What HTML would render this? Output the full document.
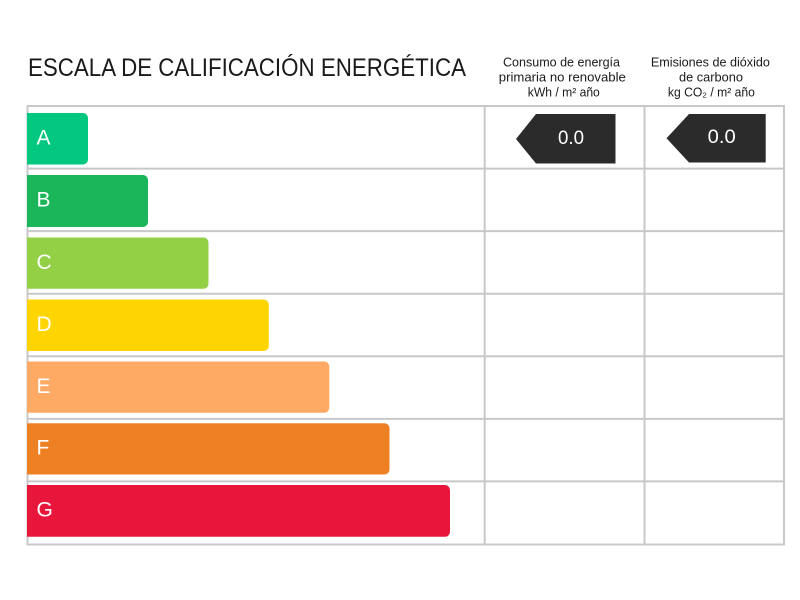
<!DOCTYPE html>
<html>
<head>
<meta charset="utf-8">
<style>
html,body{margin:0;padding:0;background:#ffffff;}
svg{display:block;}
text{font-family:"Liberation Sans",sans-serif;}
</style>
</head>
<body>
<svg width="800" height="600" viewBox="0 0 800 600" xmlns="http://www.w3.org/2000/svg">
  <rect x="0" y="0" width="800" height="600" fill="#ffffff"/>

  <!-- Title -->
  <text x="28" y="76" font-size="25" fill="#1a1a1a" textLength="438" lengthAdjust="spacingAndGlyphs">ESCALA DE CALIFICACIÓN ENERGÉTICA</text>

  <!-- Column headers -->
  <g font-size="13" fill="#1a1a1a" text-anchor="middle">
    <text x="561.5" y="66.5" textLength="117" lengthAdjust="spacingAndGlyphs">Consumo de energía</text>
    <text x="562.3" y="81.5" textLength="127" lengthAdjust="spacingAndGlyphs">primaria no renovable</text>
    <text x="563.8" y="96.5" textLength="72" lengthAdjust="spacingAndGlyphs">kWh / m² año</text>
    <text x="710.4" y="66.5" textLength="119" lengthAdjust="spacingAndGlyphs">Emisiones de dióxido</text>
    <text x="711" y="81.5" textLength="64" lengthAdjust="spacingAndGlyphs">de carbono</text>
    <text x="711.4" y="96.5" textLength="87" lengthAdjust="spacingAndGlyphs">kg CO₂ / m² año</text>
  </g>

  <!-- Grid -->
  <g stroke="#c8c8c8" stroke-width="2" fill="none">
    <line x1="27" y1="106" x2="784.5" y2="106"/>
    <line x1="27" y1="168.6" x2="784.5" y2="168.6"/>
    <line x1="27" y1="231.1" x2="784.5" y2="231.1"/>
    <line x1="27" y1="293.7" x2="784.5" y2="293.7"/>
    <line x1="27" y1="356.3" x2="784.5" y2="356.3"/>
    <line x1="27" y1="418.9" x2="784.5" y2="418.9"/>
    <line x1="27" y1="481.4" x2="784.5" y2="481.4"/>
    <line x1="27" y1="544.5" x2="784.5" y2="544.5"/>
    <line x1="27.5" y1="105" x2="27.5" y2="545.5"/>
    <line x1="484.7" y1="105" x2="484.7" y2="545.5"/>
    <line x1="644.5" y1="105" x2="644.5" y2="545.5"/>
    <line x1="784" y1="105" x2="784" y2="545.5"/>
  </g>

  <!-- Bars -->
  <g>
    <path d="M27,113 H83 a5,5 0 0 1 5,5 V159.5 a5,5 0 0 1 -5,5 H27 Z" fill="#02c77e"/>
    <path d="M27,175 H143 a5,5 0 0 1 5,5 V222 a5,5 0 0 1 -5,5 H27 Z" fill="#1bb65a"/>
    <path d="M27,237.5 H203.5 a5,5 0 0 1 5,5 V283.8 a5,5 0 0 1 -5,5 H27 Z" fill="#93d046"/>
    <path d="M27,299.5 H263.8 a5,5 0 0 1 5,5 V346 a5,5 0 0 1 -5,5 H27 Z" fill="#ffd501"/>
    <path d="M27,361.5 H324.3 a5,5 0 0 1 5,5 V407.8 a5,5 0 0 1 -5,5 H27 Z" fill="#fea964"/>
    <path d="M27,423.3 H384.5 a5,5 0 0 1 5,5 V469.5 a5,5 0 0 1 -5,5 H27 Z" fill="#ee8024"/>
    <path d="M27,485 H445 a5,5 0 0 1 5,5 V531.8 a5,5 0 0 1 -5,5 H27 Z" fill="#e9163c"/>
  </g>

  <!-- Bar letters -->
  <g font-size="21" fill="#ffffff">
    <text x="36.5" y="144.5">A</text>
    <text x="36.5" y="206.5">B</text>
    <text x="36.5" y="268.8">C</text>
    <text x="36.5" y="330.8">D</text>
    <text x="36.5" y="392.8">E</text>
    <text x="36.5" y="454.6">F</text>
    <text x="36.5" y="516.4">G</text>
  </g>

  <!-- Arrows -->
  <path d="M516,139 L536,114 H615.5 V163.5 H536 Z" fill="#2b2b2b"/>
  <path d="M666.5,138.3 L689,114 H765.7 V162.5 H689 Z" fill="#2b2b2b"/>
  <g font-size="19" fill="#ffffff" text-anchor="middle">
    <text x="571" y="144" textLength="26" lengthAdjust="spacingAndGlyphs">0.0</text>
    <text x="721.7" y="143" textLength="28" lengthAdjust="spacingAndGlyphs">0.0</text>
  </g>
</svg>
</body>
</html>
